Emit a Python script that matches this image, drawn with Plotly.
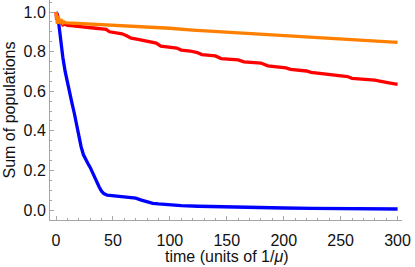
import plotly.graph_objects as go

# ---- data ----
t_blue = [0, 1, 2, 3, 4, 5, 6, 8, 10, 12, 14, 16, 18, 20, 22, 24, 26, 28, 30, 32, 34, 36, 38, 40, 42, 45,
          50, 55, 60, 65, 70, 75, 80, 85, 90, 100, 110, 125, 150, 175, 200, 225, 250, 275, 300]
v_blue = [1.0, 0.99, 0.96, 0.91, 0.86, 0.81, 0.77, 0.70, 0.64, 0.59, 0.54, 0.49, 0.43, 0.37, 0.32, 0.28,
          0.255, 0.235, 0.215, 0.19, 0.16, 0.135, 0.115, 0.095, 0.083, 0.075,
          0.072, 0.071, 0.069, 0.066, 0.060, 0.050, 0.040, 0.034, 0.031, 0.026, 0.022, 0.019, 0.015,
          0.012, 0.010, 0.008, 0.007, 0.006, 0.005]

t_red = [0, 0.5, 1, 1.5, 2, 2.5, 3, 4, 5, 6, 8, 10, 15, 20, 25, 30, 35, 40, 44, 47, 52, 58, 62, 66, 72,
         78, 82, 88, 92, 100, 106, 110, 118, 124, 128, 135, 140, 145, 152, 160, 165, 172, 180, 186, 195,
         202, 206, 215, 220, 224, 232, 240, 248, 256, 260, 270, 280, 290, 300]
v_red = [1.0, 0.96, 0.99, 0.95, 0.97, 0.94, 0.96, 0.94, 0.95, 0.935, 0.94, 0.932, 0.93, 0.928, 0.925,
         0.92, 0.918, 0.915, 0.912, 0.90, 0.895, 0.89, 0.88, 0.868, 0.862, 0.855, 0.848, 0.843, 0.828,
         0.822, 0.818, 0.808, 0.803, 0.795, 0.785, 0.781, 0.778, 0.765, 0.762, 0.758, 0.748, 0.745,
         0.742, 0.728, 0.722, 0.718, 0.71, 0.705, 0.702, 0.695, 0.69, 0.683, 0.678, 0.674, 0.665, 0.66,
         0.656, 0.645, 0.635]

t_orange = [0, 0.4, 0.8, 1.2, 1.6, 2, 2.5, 3, 3.5, 4, 5, 6, 7, 8, 10, 20, 30, 40, 50, 60, 70, 80, 90,
            100, 120, 140, 160, 180, 200, 220, 240, 260, 280, 300]
v_orange = [1.0, 0.95, 0.99, 0.94, 0.98, 0.95, 0.97, 0.945, 0.96, 0.95, 0.955, 0.945, 0.95, 0.946,
            0.945, 0.942, 0.94, 0.937, 0.934, 0.931, 0.929, 0.925, 0.921, 0.918, 0.909, 0.902, 0.895,
            0.888, 0.881, 0.875, 0.869, 0.862, 0.855, 0.847]

x_ticks = [0, 50, 100, 150, 200, 250, 300]
y_ticks = [0.0, 0.2, 0.4, 0.6, 0.8, 1.0]
y_tick_labels = ["0.0", "0.2", "0.4", "0.6", "0.8", "1.0"]

x_title = "time (units of 1/<i>μ</i>)"
y_title = "Sum of populations"

FONT = "Liberation Sans, Arial, sans-serif"
AXIS_GRAY = "#a6a6a6"

fig = go.Figure()
for t, v, c in [(t_blue, v_blue, "#0000ff"), (t_red, v_red, "#ff0000"), (t_orange, v_orange, "#ff8000")]:
    fig.add_trace(go.Scatter(x=t, y=v, mode="lines", line=dict(color=c, width=3.3),
                             showlegend=False, hoverinfo="skip"))

axis_common = dict(showgrid=False, zeroline=False, showline=True, linecolor=AXIS_GRAY, linewidth=1,
                   ticks="inside", ticklen=4, tickcolor=AXIS_GRAY, tickwidth=1,
                   tickfont=dict(family=FONT, size=16, color="#111111"))

fig.update_xaxes(range=[-5.3, 303.9], tickmode="array", tickvals=x_ticks, ticklabelstandoff=6,
                 minor=dict(dtick=10, tick0=0, ticks="inside", ticklen=2, tickcolor=AXIS_GRAY, showgrid=False),
                 **axis_common)
fig.update_yaxes(range=[-0.0505, 1.0606], tickmode="array", tickvals=y_ticks, ticktext=y_tick_labels,
                 minor=dict(dtick=0.05, tick0=0, ticks="inside", ticklen=2, tickcolor=AXIS_GRAY, showgrid=False),
                 title=dict(text=y_title, standoff=3, font=dict(family=FONT, size=16, color="#111111")),
                 **axis_common)

fig.add_annotation(text=x_title, xref="paper", yref="paper", x=0.502, y=-0.164,
                   xanchor="center", yanchor="middle", showarrow=False,
                   font=dict(family=FONT, size=16, color="#111111"))

fig.update_layout(width=415, height=267, margin=dict(l=50, r=13, t=0, b=47),
                  plot_bgcolor="white", paper_bgcolor="white")

fig.write_html("out.html", config={"displayModeBar": False},
               post_script="document.body.style.margin='0';document.body.style.padding='0';"
                           "document.body.style.overflow='hidden';")
